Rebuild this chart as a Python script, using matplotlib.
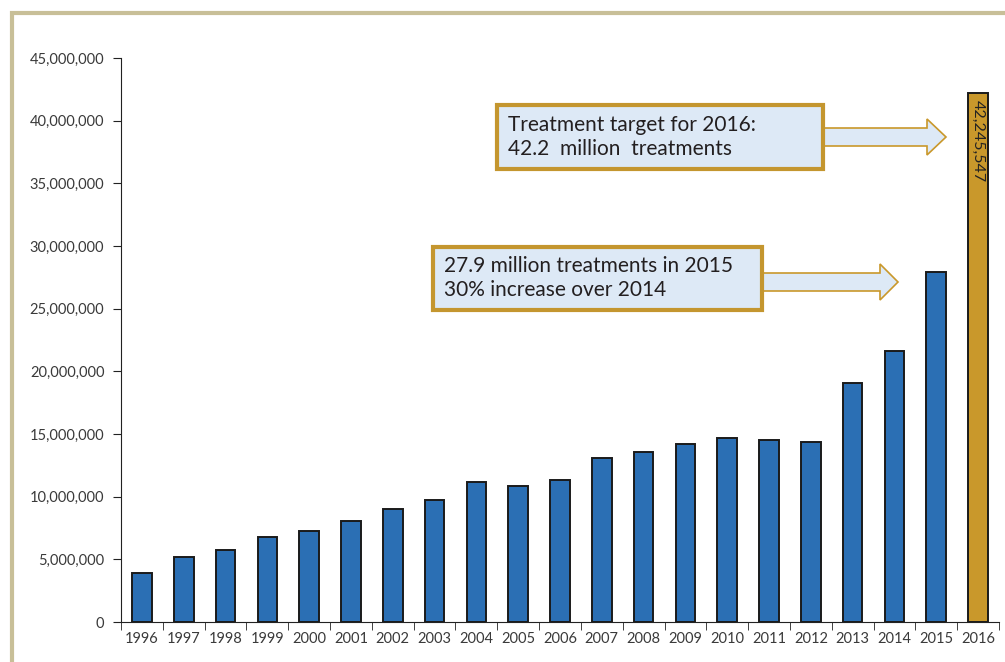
import matplotlib
matplotlib.use('Agg')
import matplotlib.pyplot as plt
from matplotlib.patches import Rectangle, Polygon
from matplotlib.ticker import FuncFormatter

plt.rcParams['font.family'] = ['Lato', 'DejaVu Sans']

years = [str(y) for y in range(1996, 2017)]
treatments = [3.9e6, 5.2e6, 5.75e6, 6.75e6, 7.3e6, 8.05e6, 9.0e6, 9.75e6, 11.15e6, 10.85e6,
              11.3e6, 13.05e6, 13.55e6, 14.2e6, 14.65e6, 14.5e6, 14.4e6, 19.1e6, 21.6e6,
              27.9e6, 42245547]
target_label = "42,245,547"
box1_text = "Treatment target for 2016:\n42.2  million  treatments"
box2_text = "27.9 million treatments in 2015\n30% increase over 2014"

W, H = 1005, 662
fig = plt.figure(figsize=(W / 100, H / 100), dpi=100)

def fx(px):
    return px / W

def fy(py):
    return 1 - py / H

ax = fig.add_axes([fx(121), fy(622), fx(999) - fx(121), fy(58) - fy(622)])

colors = ['#2b6fb4'] * (len(years) - 1) + ['#c9982b']
x = list(range(len(years)))
ax.bar(x, treatments, width=0.47, color=colors, edgecolor='#1a1a1a', linewidth=1.4, zorder=2)

ax.set_xlim(-0.5, len(years) - 0.5)
ax.set_ylim(0, 45e6)
ax.set_yticks([i * 5e6 for i in range(10)])
ax.yaxis.set_major_formatter(FuncFormatter(lambda v, p: f"{int(v):,}"))
ax.set_xticks(x)
ax.set_xticklabels(years)
ax.set_xticks([i + 0.5 for i in range(-1, len(years))], minor=True)
ax.tick_params(axis='x', which='major', length=0, pad=7, labelsize=10.5, labelcolor='#3a3a3a')
ax.tick_params(axis='x', which='minor', length=6, color='#222222', direction='out')
ax.tick_params(axis='y', length=6, color='#222222', labelsize=10.5, labelcolor='#3a3a3a', pad=6)
for s in ['top', 'right']:
    ax.spines[s].set_visible(False)
ax.spines['left'].set_color('#222222')
ax.spines['bottom'].set_color('#222222')

ax.text(x[-1], treatments[-1] - 0.6e6, target_label, rotation=270, ha='center', va='top',
        fontsize=11.5, color='#222222', zorder=3)

# outer frame
fig.patches.append(Rectangle((fx(12), fy(700)), fx(1100), fy(13) - fy(700), transform=fig.transFigure,
                             fill=False, edgecolor='#c8bf98', linewidth=3))

def arrow(x0, xh, x1, yc, sh, hh):
    pts = [(x0, yc - sh), (xh, yc - sh), (xh, yc - hh), (x1, yc), (xh, yc + hh), (xh, yc + sh), (x0, yc + sh)]
    fig.patches.append(Polygon([(fx(a), fy(b)) for a, b in pts], closed=True, transform=fig.transFigure,
                               facecolor='#dde9f6', edgecolor='#c9982b', linewidth=1.2))

def box(x0, y0, x1, y1, txt):
    fig.patches.append(Rectangle((fx(x0), fy(y1)), fx(x1) - fx(x0), fy(y0) - fy(y1), transform=fig.transFigure,
                                 facecolor='#dde9f6', edgecolor='#c4962f', linewidth=3))
    fig.text(fx(x0 + 11), fy((y0 + y1) / 2), txt, ha='left', va='center', fontsize=15,
             color='#231f20', linespacing=1.25)

arrow(820, 927, 946, 137, 9, 18)
box(497, 105, 823, 169, box1_text)
arrow(758, 880, 898, 282, 9, 18)
box(433, 247, 762, 310, box2_text)

fig.savefig('out.png', dpi=100)
